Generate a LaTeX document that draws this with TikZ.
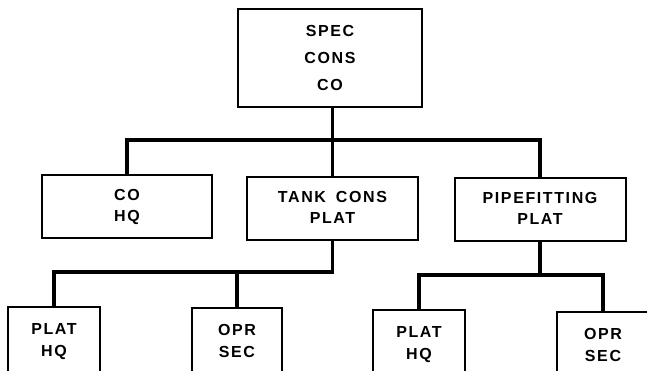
\documentclass[tikz,border=0pt]{standalone}
\usepackage{fontspec}
\newfontfamily\lbl{Liberation Sans}[LetterSpace=10]
\newcommand{\stk}[1]{\begin{tabular}{@{}c@{}}#1\end{tabular}}
\begin{document}
\begin{tikzpicture}[x=1pt,y=-1pt,
  box/.style={draw, line width=2pt, inner sep=0pt,
    font=\lbl\bfseries\fontsize{16}{21.5}\selectfont},
  link/.style={line width=3.4pt}]
\useasboundingbox[fill=white] (0,0) rectangle (647,371);
% top
\node[box, minimum width=184pt, minimum height=98pt,
  font=\lbl\bfseries\fontsize{16}{27}\selectfont] (top) at (330,58) {\stk{SPEC\\CONS\\CO}};
% middle row
\node[box, minimum width=170pt, minimum height=63pt] (cohq) at (127,206.5) {\stk{CO\\HQ}};
\node[box, minimum width=171pt, minimum height=63pt] (tank) at (332.5,208.5) {\stk{TANK\hspace{10pt}CONS\\PLAT}};
\node[box, minimum width=171pt, minimum height=63pt] (pipe) at (540,209.5) {\stk{PIPEFITTING\\PLAT}};
% bottom row
\node[box, minimum width=92pt, minimum height=68pt] (phqa) at (54,341) {\stk{PLAT\\HQ}};
\node[box, minimum width=90pt, minimum height=68pt] (oseca) at (237,342) {\stk{OPR\\SEC}};
\node[box, minimum width=92pt, minimum height=68pt] (phqb) at (419,344) {\stk{PLAT\\HQ}};
\node[box, minimum width=92pt, minimum height=68pt] (osecb) at (603,346) {\stk{OPR\\SEC}};
% connectors
\coordinate (b1) at (330,140);
\coordinate (b2) at (332.5,272);
\coordinate (b3) at (540,275);
\draw[link] (tank.north |- top.south) -- (tank.north);
\draw[link] (cohq.north) |- (b1) -| (pipe.north);
\draw[link] (tank.south) -- (b2) -| (phqa.north);
\draw[link] (b2 -| oseca.north) -- (oseca.north);
\draw[link] (pipe.south) -- (b3);
\draw[link] (phqb.north) |- (b3) -| (osecb.north);
\end{tikzpicture}
\end{document}
